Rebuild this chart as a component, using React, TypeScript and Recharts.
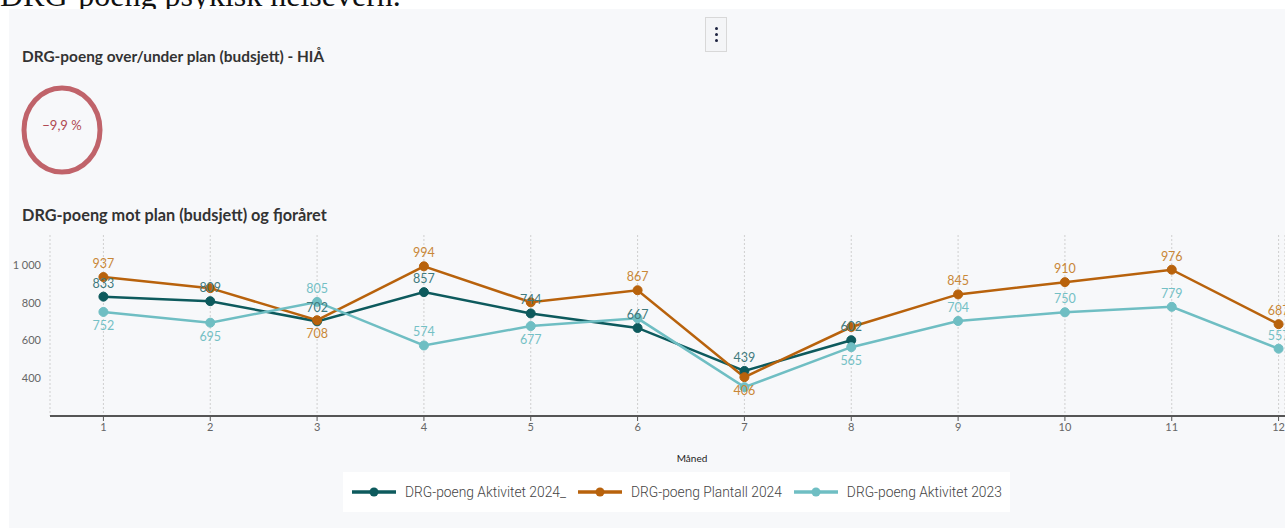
import { LineChart, Line, XAxis, YAxis, CartesianGrid, LabelList } from 'recharts';

// DRG-poeng per måned
const months = [1, 2, 3, 4, 5, 6, 7, 8, 9, 10, 11, 12];
const aktivitet2024 = [833, 809, 702, 857, 744, 667, 439, 602, null, null, null, null];
const plantall2024 = [937, 878, 708, 994, 803, 867, 406, 672, 845, 910, 976, 687];
const aktivitet2023 = [752, 695, 805, 574, 677, 718, 353, 565, 704, 750, 779, 557];
const yTicks = [400, 600, 800, 1000];
const avvikProsent = -9.9;

const data = months.map((m, i) => ({
  maaned: m,
  akt2024: aktivitet2024[i],
  plan2024: plantall2024[i],
  akt2023: aktivitet2023[i],
}));

// where each value label goes (null = hidden because it collides)
type Side = 'above' | 'below' | null;
const labelSide: Record<string, Side[]> = {
  akt2024: ['above', 'above', 'above', 'above', 'above', 'above', 'above', 'above', null, null, null, null],
  plan2024: ['above', null, 'below', 'above', null, 'above', 'below', null, 'above', 'above', 'above', 'above'],
  akt2023: ['below', 'below', 'above', 'above', 'below', null, null, 'below', 'above', 'above', 'above', 'above'],
};

const series = [
  { key: 'akt2024', name: 'DRG-poeng Aktivitet 2024_', color: '#0d5a5d', labelColor: '#3f7a7d' },
  { key: 'plan2024', name: 'DRG-poeng Plantall 2024', color: '#b8620c', labelColor: '#c98737' },
  { key: 'akt2023', name: 'DRG-poeng Aktivitet 2023', color: '#6fbec3', labelColor: '#74c0c5' },
];

const FONT = 'Lato, "Open Sans", sans-serif';
const fmt = (v: number) => (v >= 1000 ? `${Math.floor(v / 1000)} ${String(v % 1000).padStart(3, '0')}` : String(v));

function makeLabel(key: string, color: string) {
  return (props: any) => {
    const { x, y, value, index } = props;
    const side = labelSide[key][index];
    if (value == null || !side) return null;
    return (
      <text
        x={x}
        y={side === 'above' ? y - 9 : y + 18}
        textAnchor="middle"
        fill={color}
        fontSize={12.5}
        fontFamily={FONT}
      >
        {value}
      </text>
    );
  };
}

export default function App() {
  return (
    <div style={{ position: 'fixed', left: 0, top: 0, width: 1285, height: 528, background: '#fff', overflow: 'hidden' }}>
      <div
        style={{
          position: 'absolute',
          left: 0,
          top: -23,
          fontFamily: '"Liberation Serif", serif',
          fontSize: 32,
          lineHeight: 'normal',
          color: '#111',
          whiteSpace: 'nowrap',
        }}
      >
        DRG-poeng psykisk helsevern.
      </div>
      <div style={{ position: 'absolute', left: 9, top: 9, right: 0, bottom: 0, background: '#f7f8fa' }} />

      {/* menu button */}
      <div
        style={{
          position: 'absolute',
          left: 705,
          top: 17,
          width: 22,
          height: 35,
          border: '1px solid #d8d8d8',
          background: '#f4f5f7',
          boxSizing: 'border-box',
          display: 'flex',
          flexDirection: 'column',
          alignItems: 'center',
          justifyContent: 'center',
          gap: 3,
        }}
      >
        {[0, 1, 2].map((i) => (
          <div key={i} style={{ width: 3, height: 3, borderRadius: 2, background: '#1d2340' }} />
        ))}
      </div>

      <div style={{ position: 'absolute', left: 22, top: 47, fontFamily: FONT, fontWeight: 700, fontSize: 15.4, color: '#333', whiteSpace: 'nowrap' }}>
        DRG-poeng over/under plan (budsjett) - HIÅ
      </div>

      <svg style={{ position: 'absolute', left: 0, top: 0 }} width={140} height={190}>
        <ellipse cx={62} cy={130} rx={38} ry={42} fill="none" stroke="#c0636a" strokeWidth={5} />
        <text x={62} y={130} textAnchor="middle" fill="#b04a52" fontSize={13} fontFamily={FONT}>
          {`−${Math.abs(avvikProsent).toFixed(1).replace('.', ',')} %`}
        </text>
      </svg>

      <div style={{ position: 'absolute', left: 22, top: 205, fontFamily: FONT, fontWeight: 700, fontSize: 16.3, color: '#333', whiteSpace: 'nowrap' }}>
        DRG-poeng mot plan (budsjett) og fjoråret
      </div>

      <div style={{ position: 'absolute', left: 0, top: 225 }}>
        <LineChart width={1285} height={215} data={data} margin={{ top: 10, right: 0, bottom: 0, left: 0 }}>
          <CartesianGrid horizontal={false} stroke="#cfcfcf" strokeDasharray="2 2" />
          <XAxis
            dataKey="maaned"
            type="number"
            domain={[0.5, 12.06]}
            ticks={months}
            allowDataOverflow
            height={24}
            axisLine={{ stroke: '#555', strokeWidth: 2 }}
            tickLine={{ stroke: '#555' }}
            tickSize={5}
            tick={{ fill: '#666', fontSize: 11, fontFamily: FONT }}
          />
          <YAxis
            domain={[200, 1160]}
            ticks={yTicks}
            width={50}
            axisLine={false}
            tickLine={false}
            tickMargin={3}
            tickFormatter={fmt}
            tick={{ fill: '#666', fontSize: 11, fontFamily: FONT }}
          />
          {series.map((s) => (
            <Line
              key={s.key}
              dataKey={s.key}
              stroke={s.color}
              strokeWidth={2.5}
              dot={{ r: 4.5, fill: s.color, stroke: s.color, strokeWidth: 1 }}
              activeDot={false}
              isAnimationActive={false}
            >
              <LabelList dataKey={s.key} content={makeLabel(s.key, s.labelColor)} />
            </Line>
          ))}
        </LineChart>
      </div>

      <div style={{ position: 'absolute', left: 692, top: 452, transform: 'translateX(-50%)', fontFamily: FONT, fontSize: 10, color: '#222' }}>
        Måned
      </div>

      {/* legend */}
      <div
        style={{
          position: 'absolute',
          left: 343,
          top: 472,
          width: 667,
          height: 40,
          background: '#fff',
          display: 'flex',
          alignItems: 'center',
          paddingLeft: 9,
          boxSizing: 'border-box',
          fontFamily: 'Roboto, sans-serif',
          fontWeight: 300,
          fontSize: 13.8,
          color: '#444',
          whiteSpace: 'nowrap',
        }}
      >
        {series.map((s) => (
          <div key={s.key} style={{ display: 'flex', alignItems: 'center', marginRight: 12, flexShrink: 0 }}>
            <svg width={44} height={12} style={{ marginRight: 9 }}>
              <line x1={0} y1={6} x2={44} y2={6} stroke={s.color} strokeWidth={3.5} />
              <circle cx={22} cy={6} r={4.5} fill={s.color} />
            </svg>
            {s.name}
          </div>
        ))}
      </div>
    </div>
  );
}
